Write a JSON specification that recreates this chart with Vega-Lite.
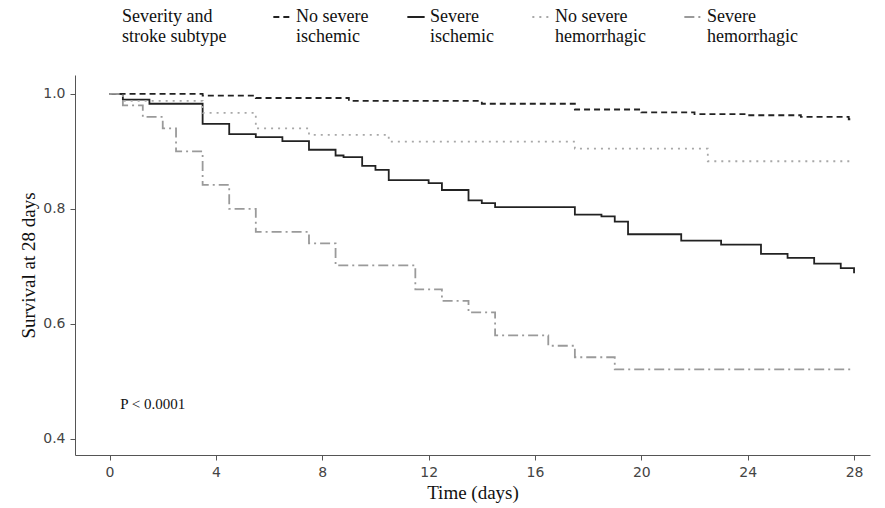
{
  "$schema": "https://vega.github.io/schema/vega-lite/v6.json",
  "width": 795,
  "height": 380,
  "autosize": "none",
  "padding": {"left": 75, "top": 75, "right": 15, "bottom": 53},
  "config": {
    "font": "Liberation Serif",
    "view": {"stroke": null},
    "axis": {"grid": false, "domainColor": "#555", "tickColor": "#555", "labelColor": "#444", "labelFont": "DejaVu Sans", "labelFontSize": 14, "titleFontSize": 19, "titleFontWeight": "normal", "titleColor": "#111", "labelPadding": 5}
  },
  "datasets": {
    "km": [
      {"day": 0, "s": 1.0, "g": "No severe ischemic"},
      {"day": 3.5, "s": 0.997, "g": "No severe ischemic"},
      {"day": 5.5, "s": 0.993, "g": "No severe ischemic"},
      {"day": 9, "s": 0.988, "g": "No severe ischemic"},
      {"day": 14, "s": 0.983, "g": "No severe ischemic"},
      {"day": 17.5, "s": 0.973, "g": "No severe ischemic"},
      {"day": 20, "s": 0.968, "g": "No severe ischemic"},
      {"day": 22, "s": 0.965, "g": "No severe ischemic"},
      {"day": 24, "s": 0.963, "g": "No severe ischemic"},
      {"day": 26, "s": 0.96, "g": "No severe ischemic"},
      {"day": 27.8, "s": 0.956, "g": "No severe ischemic"},
      {"day": 28, "s": 0.956, "g": "No severe ischemic"},

      {"day": 0, "s": 1.0, "g": "Severe ischemic"},
      {"day": 0.5, "s": 0.99, "g": "Severe ischemic"},
      {"day": 1.5, "s": 0.983, "g": "Severe ischemic"},
      {"day": 3.5, "s": 0.948, "g": "Severe ischemic"},
      {"day": 4.5, "s": 0.93, "g": "Severe ischemic"},
      {"day": 5.5, "s": 0.925, "g": "Severe ischemic"},
      {"day": 6.5, "s": 0.918, "g": "Severe ischemic"},
      {"day": 7.5, "s": 0.903, "g": "Severe ischemic"},
      {"day": 8.5, "s": 0.893, "g": "Severe ischemic"},
      {"day": 8.8, "s": 0.89, "g": "Severe ischemic"},
      {"day": 9.5, "s": 0.875, "g": "Severe ischemic"},
      {"day": 10, "s": 0.868, "g": "Severe ischemic"},
      {"day": 10.5, "s": 0.85, "g": "Severe ischemic"},
      {"day": 12, "s": 0.845, "g": "Severe ischemic"},
      {"day": 12.5, "s": 0.833, "g": "Severe ischemic"},
      {"day": 13.5, "s": 0.815, "g": "Severe ischemic"},
      {"day": 14, "s": 0.81, "g": "Severe ischemic"},
      {"day": 14.5, "s": 0.803, "g": "Severe ischemic"},
      {"day": 17.5, "s": 0.79, "g": "Severe ischemic"},
      {"day": 18.5, "s": 0.787, "g": "Severe ischemic"},
      {"day": 19, "s": 0.778, "g": "Severe ischemic"},
      {"day": 19.5, "s": 0.756, "g": "Severe ischemic"},
      {"day": 21.5, "s": 0.745, "g": "Severe ischemic"},
      {"day": 23, "s": 0.738, "g": "Severe ischemic"},
      {"day": 24.5, "s": 0.722, "g": "Severe ischemic"},
      {"day": 25.5, "s": 0.715, "g": "Severe ischemic"},
      {"day": 26.5, "s": 0.705, "g": "Severe ischemic"},
      {"day": 27.5, "s": 0.697, "g": "Severe ischemic"},
      {"day": 28, "s": 0.688, "g": "Severe ischemic"},

      {"day": 0, "s": 1.0, "g": "No severe hemorrhagic"},
      {"day": 0.5, "s": 0.988, "g": "No severe hemorrhagic"},
      {"day": 3.5, "s": 0.967, "g": "No severe hemorrhagic"},
      {"day": 5.5, "s": 0.94, "g": "No severe hemorrhagic"},
      {"day": 7.5, "s": 0.929, "g": "No severe hemorrhagic"},
      {"day": 10.5, "s": 0.917, "g": "No severe hemorrhagic"},
      {"day": 17.5, "s": 0.905, "g": "No severe hemorrhagic"},
      {"day": 22.5, "s": 0.883, "g": "No severe hemorrhagic"},
      {"day": 28, "s": 0.883, "g": "No severe hemorrhagic"},

      {"day": 0, "s": 1.0, "g": "Severe hemorrhagic"},
      {"day": 0.5, "s": 0.98, "g": "Severe hemorrhagic"},
      {"day": 1.25, "s": 0.96, "g": "Severe hemorrhagic"},
      {"day": 2, "s": 0.94, "g": "Severe hemorrhagic"},
      {"day": 2.5, "s": 0.9, "g": "Severe hemorrhagic"},
      {"day": 3.5, "s": 0.842, "g": "Severe hemorrhagic"},
      {"day": 4.5, "s": 0.8, "g": "Severe hemorrhagic"},
      {"day": 5.5, "s": 0.76, "g": "Severe hemorrhagic"},
      {"day": 7.5, "s": 0.74, "g": "Severe hemorrhagic"},
      {"day": 8.5, "s": 0.702, "g": "Severe hemorrhagic"},
      {"day": 11.5, "s": 0.66, "g": "Severe hemorrhagic"},
      {"day": 12.5, "s": 0.64, "g": "Severe hemorrhagic"},
      {"day": 13.5, "s": 0.62, "g": "Severe hemorrhagic"},
      {"day": 14.5, "s": 0.58, "g": "Severe hemorrhagic"},
      {"day": 16.5, "s": 0.562, "g": "Severe hemorrhagic"},
      {"day": 17.5, "s": 0.542, "g": "Severe hemorrhagic"},
      {"day": 19, "s": 0.521, "g": "Severe hemorrhagic"},
      {"day": 28, "s": 0.521, "g": "Severe hemorrhagic"}
    ],
    "note": [{"day": 0.4, "s": 0.46, "label": "P < 0.0001"}]
  },
  "layer": [
    {
      "data": {"name": "km"},
      "mark": {"type": "line", "interpolate": "step-after", "strokeWidth": 1.8},
      "encoding": {
        "x": {"field": "day", "type": "quantitative", "title": "Time (days)", "scale": {"domain": [-1.3, 28.6], "nice": false, "zero": false}, "axis": {"values": [0, 4, 8, 12, 16, 20, 24, 28]}},
        "y": {"field": "s", "type": "quantitative", "title": "Survival at 28 days", "scale": {"domain": [0.372, 1.033], "nice": false, "zero": false}, "axis": {"values": [0.4, 0.6, 0.8, 1.0], "format": ".1f"}},
        "color": {
          "field": "g", "type": "nominal",
          "scale": {"domain": ["No severe ischemic", "Severe ischemic", "No severe hemorrhagic", "Severe hemorrhagic"], "range": ["#222222", "#222222", "#a8a8a8", "#9a9a9a"]},
          "legend": {
            "title": ["Severity and", "stroke subtype"],
            "orient": "none", "legendX": 47, "legendY": -68,
            "direction": "horizontal", "titleOrient": "left", "titleFontSize": 18, "titleFontWeight": "normal", "titleColor": "#111", "titlePadding": 45,
            "labelFontSize": 18, "labelColor": "#111", "symbolType": "stroke", "symbolSize": 300, "symbolStrokeWidth": 2, "columnPadding": 34,
            "labelExpr": "split(replace(datum.label, regexp('evere '), 'evere|'), '|')"
          }
        },
        "strokeDash": {
          "field": "g", "type": "nominal",
          "scale": {"domain": ["No severe ischemic", "Severe ischemic", "No severe hemorrhagic", "Severe hemorrhagic"], "range": [[6, 4], [1, 0], [2, 5], [10, 4, 2, 4]]},
          "legend": null
        }
      }
    },
    {
      "data": {"name": "note"},
      "mark": {"type": "text", "align": "left", "fontSize": 15, "font": "Liberation Serif", "color": "#111"},
      "encoding": {
        "x": {"field": "day", "type": "quantitative"},
        "y": {"field": "s", "type": "quantitative"},
        "text": {"field": "label"}
      }
    }
  ]
}
